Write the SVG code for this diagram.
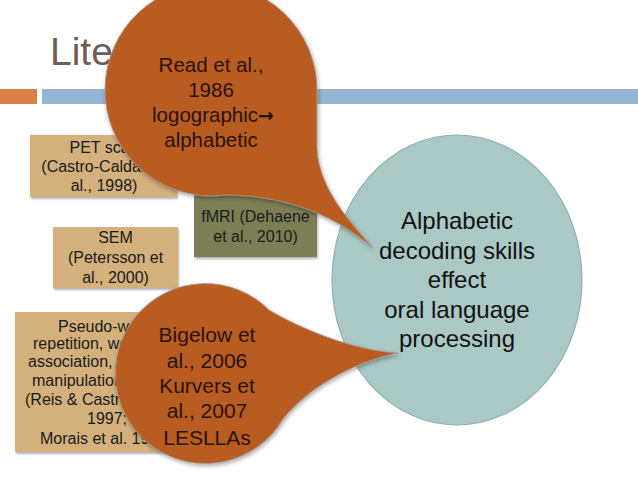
<svg xmlns="http://www.w3.org/2000/svg" width="638" height="479" viewBox="0 0 638 479">
<defs>
<style>
.box{fill:#d3b07b;filter:url(#sh)}
.box2{fill:#7b7f57;filter:url(#sh)}
.t{font-family:"Liberation Sans",Arial,sans-serif;font-size:16px;fill:#1a1a1a;text-anchor:middle}
.ts{font-family:"Liberation Sans",Arial,sans-serif;font-size:16px;fill:#1a1a1a}
.tb{font-family:"Liberation Sans",Arial,sans-serif;font-size:20.5px;fill:#2a1208;text-anchor:middle}
.te{font-family:"Liberation Sans",Arial,sans-serif;font-size:24px;fill:#111;text-anchor:middle}
.blob{fill:#b95b24;stroke:#a89a90;stroke-width:0.8;filter:url(#sh2)}
</style>
<filter id="sh" x="-10%" y="-10%" width="130%" height="130%">
<feDropShadow dx="1" dy="2" stdDeviation="1.2" flood-color="#000" flood-opacity="0.3"/>
</filter>
<filter id="sh2" x="-10%" y="-10%" width="130%" height="130%">
<feDropShadow dx="1" dy="2" stdDeviation="2" flood-color="#000" flood-opacity="0.35"/>
</filter>
</defs>
<rect width="638" height="479" fill="#ffffff"/>
<g id="title">
<text x="50" y="65" font-family="'Liberation Sans',Arial,sans-serif" font-size="39" fill="#6e5d57">Liter</text>
<rect x="0" y="89" width="37" height="15" fill="#dd8047"/>
<rect x="42" y="89" width="596" height="15" fill="#94b6d2"/>
</g>
<g id="pet">
<rect class="box" x="30" y="135" width="147" height="62"/>
<text class="t" x="104" y="153">PET scan</text>
<text class="t" x="104" y="172">(Castro-Caldas et</text>
<text class="t" x="104" y="191">al., 1998)</text>
</g>
<g id="fmri">
<rect class="box2" x="194" y="192" width="123" height="65"/>
<text class="t" x="255.5" y="222">fMRI (Dehaene</text>
<text class="t" x="255.5" y="242">et al., 2010)</text>
</g>
<g id="sem">
<rect class="box" x="53" y="227" width="125" height="61"/>
<text class="t" x="115.5" y="243">SEM</text>
<text class="t" x="115.5" y="263">(Petersson et</text>
<text class="t" x="115.5" y="283">al., 2000)</text>
</g>
<g id="pseudo">
<rect class="box" x="15" y="312" width="182" height="140"/>
<text class="ts" x="58" y="332">Pseudo-word</text>
<text class="ts" x="33" y="349">repetition, word</text>
<text class="ts" x="28" y="367">association,</text>
<text class="ts" x="32" y="386">manipulation</text>
<text class="ts" x="25" y="405">(Reis &amp; Castro</text>
<text class="ts" x="87" y="424">1997;</text>
<text class="ts" x="40" y="444">Morais et al. 19</text>
</g>
<g id="alphabetic">
<ellipse cx="457" cy="280" rx="125" ry="145" fill="#aac8c4" stroke="#8eb0ba" stroke-width="1.2"/>
<text class="te" x="457" y="229">Alphabetic</text>
<text class="te" x="457" y="258.5">decoding skills</text>
<text class="te" x="457" y="288">effect</text>
<text class="te" x="457" y="317.5">oral language</text>
<text class="te" x="457" y="347">processing</text>
</g>
<g id="read">
<path class="blob" d="M317,90 A106,106 0 1 0 225,195 C275,195 330,210 373,248 C350,222 320,190 317,150 Z"/>
<text class="tb" x="211" y="72">Read et al.,</text>
<text class="tb" x="211" y="97">1986</text>
<text class="tb" x="213" y="122">logographic<tspan font-family="'DejaVu Sans',sans-serif" font-weight="bold" font-size="19">→</tspan></text>
<text class="tb" x="211" y="147">alphabetic</text>
</g>
<g id="bigelow">
<path class="blob" d="M269,310 C300,328 350,350 398,353 C360,360 310,385 283,419 A90,90 0 1 1 269,310 Z"/>
<text class="tb" x="207" y="342" style="font-size:21px">Bigelow et</text>
<text class="tb" x="207" y="368" style="font-size:21px">al., 2006</text>
<text class="tb" x="207" y="393" style="font-size:21px">Kurvers et</text>
<text class="tb" x="207" y="418" style="font-size:21px">al., 2007</text>
<text class="tb" x="207" y="445" style="font-size:21px">LESLLAs</text>
</g>
<g id="connectors"/>
</svg>
